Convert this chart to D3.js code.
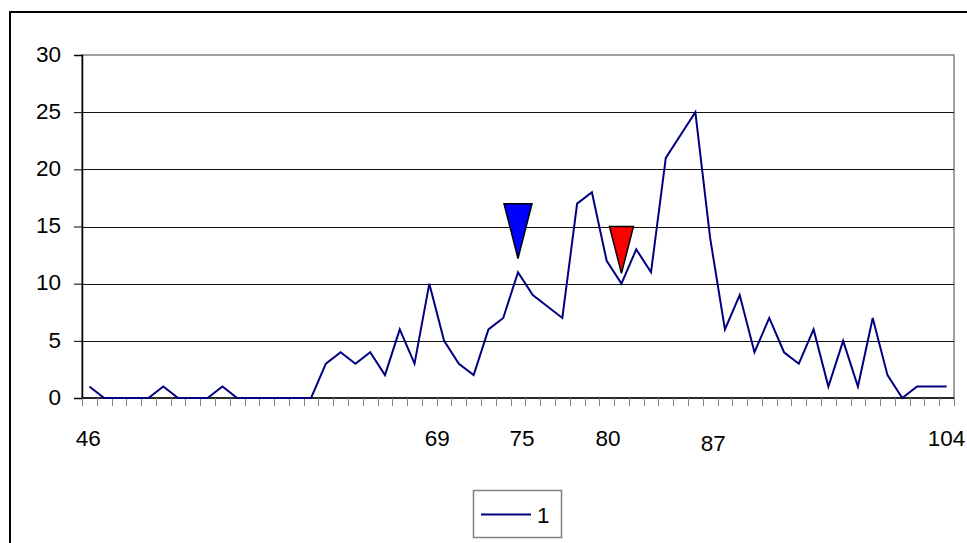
<!DOCTYPE html>
<html>
<head>
<meta charset="utf-8">
<script src="https://cdn.jsdelivr.net/npm/d3@7"></script>
<style>
  html, body { margin: 0; padding: 0; background: #fff; }
  svg { display: block; font-family: "Liberation Sans", Arial, sans-serif; }
</style>
</head>
<body>
<svg id="chart" width="967" height="543"></svg>
<script>
// ---- data ----
const categories = d3.range(46, 105).map(String);
const values = [
  1, 0, 0, 0, 0, 1, 0, 0, 0, 1, 0, 0, 0, 0, 0, 0,      // 46-61
  3, 4, 3, 4, 2, 6, 3, 10, 5, 3, 2, 6, 7, 11, 9, 8, 7, // 62-78
  17, 18, 12, 10, 13, 11, 21, 23, 25, 14,             // 79-88
  6, 9, 4, 7, 4, 3, 6, 1, 5, 1, 7, 2, 0, 1, 1, 1      // 89-104
];
const xTickLabels = ["46", "69", "75", "80", "87", "104"];
const yTicks = [0, 5, 10, 15, 20, 25, 30];
const markerCats = ["75", "82"];
const markerTop = [17, 15];
const markerTip = [12.2, 10.9];
const markerColors = ["#0000ff", "#ff0000"];
const legendLabels = ["1"];

// ---- layout ----
const svg = d3.select("#chart");
const plot = { left: 82, right: 954, top: 55, bottom: 398 };
const FS = 22.5;

const x = d3.scaleBand().domain(categories).range([plot.left, plot.right]).padding(0);
const y = d3.scaleLinear().domain([0, 30]).range([plot.bottom, plot.top]);
const cx = c => x(c) + x.bandwidth() / 2;

// outer chart border (clipped at right/bottom like the reference)
svg.append("rect").attr("x", 10).attr("y", 12).attr("width", 1000).attr("height", 600)
  .attr("fill", "none").attr("stroke", "#000").attr("stroke-width", 2);

// plot-area frame (grey top/right)
svg.append("rect").attr("x", plot.left).attr("y", plot.top)
  .attr("width", plot.right - plot.left).attr("height", plot.bottom - plot.top)
  .attr("fill", "none").attr("stroke", "#808080").attr("stroke-width", 1.5);

// gridlines
svg.append("g").selectAll("line").data(yTicks.filter(t => t > 0 && t < 30)).join("line")
  .attr("x1", plot.left).attr("x2", plot.right)
  .attr("y1", d => Math.round(y(d)) + 0.5).attr("y2", d => Math.round(y(d)) + 0.5)
  .attr("stroke", "#111").attr("stroke-width", 1.2);

// y axis
const yAxis = d3.axisLeft(y).tickValues(yTicks).tickSize(8).tickPadding(13);
const gy = svg.append("g").attr("transform", `translate(${plot.left},0)`).call(yAxis);
gy.select(".domain").attr("stroke", "#000").attr("stroke-width", 1.5);
gy.selectAll(".tick line").attr("stroke", "#000");
gy.selectAll(".tick text").attr("font-size", FS).attr("fill", "#000")
  .attr("font-family", "Liberation Sans, Arial, sans-serif").attr("dy", "0.28em");

// x axis line and tick marks at band edges
svg.append("line").attr("x1", plot.left).attr("x2", plot.right)
  .attr("y1", plot.bottom).attr("y2", plot.bottom).attr("stroke", "#000").attr("stroke-width", 1.5);
const edges = categories.map(c => x(c)).concat([x(categories[categories.length - 1]) + x.bandwidth()]);
svg.append("g").selectAll("line").data(edges).join("line")
  .attr("x1", d => Math.round(d) + 0.5).attr("x2", d => Math.round(d) + 0.5)
  .attr("y1", plot.bottom).attr("y2", plot.bottom + 8)
  .attr("stroke", "#808080").attr("stroke-width", 1);

// x tick labels (hand-placed in the original; small nudges)
const labelNudge = { "46": -1, "69": 8, "75": 4, "80": 16, "87": 18, "104": 0 };
const labelDy = { "87": 5 };
svg.append("g").selectAll("text").data(xTickLabels).join("text")
  .attr("x", d => cx(d) + (labelNudge[d] || 0))
  .attr("y", d => 446 + (labelDy[d] || 0))
  .attr("text-anchor", "middle").attr("font-size", FS).attr("fill", "#000")
  .text(d => d);

// series line
const line = d3.line().x((d, i) => cx(categories[i])).y(d => y(d));
svg.append("path").datum(values).attr("d", line)
  .attr("fill", "none").attr("stroke", "#000080").attr("stroke-width", 2)
  .attr("stroke-linejoin", "miter");

// triangle markers
markerCats.forEach((c, i) => {
  const xc = cx(c);
  const half = i === 0 ? 14 : 12;
  const pts = [[xc - half, y(markerTop[i])], [xc + half, y(markerTop[i])], [xc, y(markerTip[i])]];
  svg.append("polygon").attr("points", pts.map(p => p.join(",")).join(" "))
    .attr("fill", markerColors[i]).attr("stroke", "#000").attr("stroke-width", 1.5);
});

// legend
const lg = svg.append("g");
lg.append("rect").attr("x", 473.5).attr("y", 490.5).attr("width", 88).attr("height", 47)
  .attr("fill", "#fff").attr("stroke", "#808080").attr("stroke-width", 1.5);
lg.append("line").attr("x1", 481).attr("x2", 531).attr("y1", 514.5).attr("y2", 514.5)
  .attr("stroke", "#000080").attr("stroke-width", 2);
lg.append("text").attr("x", 537).attr("y", 523).attr("font-size", FS).attr("fill", "#000")
  .text(legendLabels[0]);
</script>
</body>
</html>
